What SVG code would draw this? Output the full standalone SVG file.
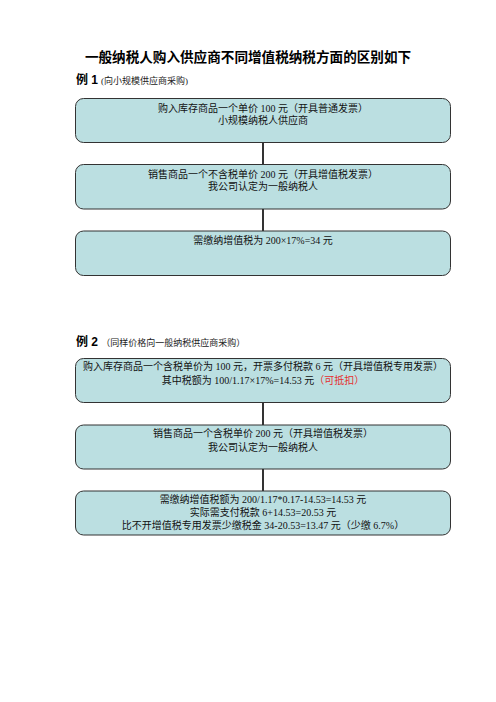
<svg xmlns="http://www.w3.org/2000/svg" width="496" height="702" viewBox="0 0 496 702">
<style>
.box{fill:#bbdfe1;stroke:#333;stroke-width:1}
.t{font-family:"Liberation Serif","Noto Sans CJK SC",serif;font-size:10px;fill:#111;text-anchor:middle}
.h{font-family:"Liberation Sans","Noto Sans CJK SC",sans-serif;font-weight:bold;fill:#000}
.s{font-family:"Liberation Serif","Noto Sans CJK SC",serif;font-size:9px;fill:#222}
.c{stroke:#000;stroke-width:1.6;fill:none}
</style>
<rect width="496" height="702" fill="#fff"/>
<text class="h" x="248" y="62" font-size="13.6" text-anchor="middle">一般纳税人购入供应商不同增值税纳税方面的区别如下</text>
<text x="76" y="84"><tspan class="h" font-size="12">例 1</tspan><tspan class="s" dx="3">(向小规模供应商采购)</tspan></text>
<text x="76" y="346"><tspan class="h" font-size="12">例 2 </tspan><tspan class="s" font-size="9.5">（同样价格向一般纳税供应商采购）</tspan></text>
<g id="connectors">
<line class="c" x1="263" y1="143" x2="263" y2="165"/>
<line class="c" x1="263" y1="209" x2="263" y2="231"/>
<line class="c" x1="263" y1="403" x2="263" y2="425"/>
<line class="c" x1="263" y1="469" x2="263" y2="491"/>
</g>
<g id="n1">
<rect class="box" x="75.5" y="98.5" width="375" height="44" rx="8"/>
<text class="t" x="263" y="112">购入库存商品一个单价 100 元（开具普通发票）</text>
<text class="t" x="263" y="124">小规模纳税人供应商</text>
</g>
<g id="n2">
<rect class="box" x="75.5" y="164.5" width="375" height="44.5" rx="8"/>
<text class="t" x="263" y="177.5">销售商品一个不含税单价 200 元（开具增值税发票）</text>
<text class="t" x="263" y="189.5">我公司认定为一般纳税人</text>
</g>
<g id="n3">
<rect class="box" x="75.5" y="231" width="375" height="44.5" rx="8"/>
<text class="t" x="263" y="243.5">需缴纳增值税为 200×17%=34 元</text>
</g>
<g id="n4">
<rect class="box" x="75.5" y="358.5" width="375" height="44" rx="8"/>
<text class="t" x="263" y="370" font-size="10.6">购入库存商品一个含税单价为 100 元，开票多付税款 6 元（开具增值税专用发票）</text>
<text class="t" x="263" y="384" font-size="10.3">其中税额为 100/1.17×17%=14.53 元<tspan fill="#e53030">（可抵扣）</tspan></text>
</g>
<g id="n5">
<rect class="box" x="75.5" y="425" width="375" height="44" rx="8"/>
<text class="t" x="263" y="437" font-size="10.3">销售商品一个含税单价 200 元（开具增值税发票）</text>
<text class="t" x="263" y="450.5" font-size="10.3">我公司认定为一般纳税人</text>
</g>
<g id="n6">
<rect class="box" x="75.5" y="491" width="375" height="44" rx="8"/>
<text class="t" x="263" y="503" font-size="10.3">需缴纳增值税额为 200/1.17*0.17-14.53=14.53 元</text>
<text class="t" x="263" y="516" font-size="10.3">实际需支付税款 6+14.53=20.53 元</text>
<text class="t" x="263" y="529" font-size="10.3">比不开增值税专用发票少缴税金 34-20.53=13.47 元（少缴 6.7%）</text>
</g>
</svg>
